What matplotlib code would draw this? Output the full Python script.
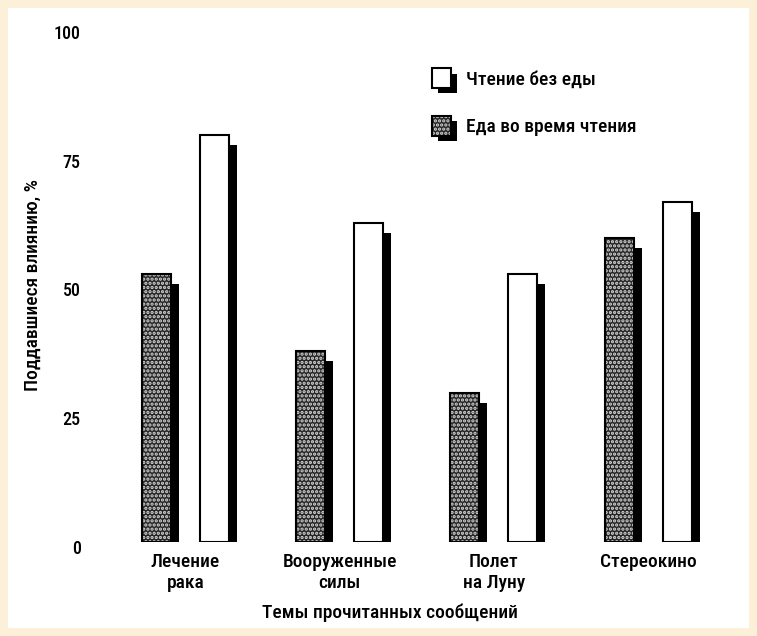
import matplotlib
matplotlib.use("Agg")
import matplotlib.pyplot as plt
import matplotlib.transforms as mtransforms
from matplotlib.patches import Rectangle
from matplotlib.legend_handler import HandlerBase
import numpy as np

# ---- data ----
categories = ["Лечение\nрака", "Вооруженные\nсилы", "Полет\nна Луну", "Стереокино"]
eating = [52, 37, 29, 59]          # Еда во время чтения
no_eating = [79, 62, 52, 66]       # Чтение без еды
yticks = [0, 25, 50, 75, 100]
series_labels = ["Чтение без еды", "Еда во время чтения"]

plt.rcParams["font.family"] = ["Liberation Sans Narrow", "Roboto Condensed", "Roboto", "DejaVu Sans"]
plt.rcParams["font.weight"] = 500
plt.rcParams["axes.labelweight"] = 500
plt.rcParams["hatch.linewidth"] = 1.6

W, H = 757, 636
DPI = 100
FS = 14
fig = plt.figure(figsize=(W / DPI, H / DPI), dpi=DPI, facecolor="#fdf0d8")

# white page inside the cream border
fig.patches.append(Rectangle((8 / W, 8 / H), (749 - 8) / W, (628 - 8) / H,
                             transform=fig.transFigure, facecolor="white",
                             edgecolor="none", zorder=-5))

ax = fig.add_axes([108.4 / W, (H - 542) / H, 616.8 / W, 515 / H])
ax.set_facecolor("none")
ax.set_zorder(2)
ax.set_xlim(-0.5, 3.5)
ax.set_ylim(0, 100)
for s in ax.spines.values():
    s.set_visible(False)

x = np.arange(len(categories))
bw = 0.188
off = 0.188
HATCH_COLOR = matplotlib.colors.to_rgba("#d8d8d8")
DARK = "#262626"

shadow_shift = mtransforms.ScaledTranslation(8 / DPI, -10 / DPI, fig.dpi_scale_trans)

def draw_series(xpos, vals, face, hatch):
    # black drop shadow behind each bar
    sh = ax.bar(xpos, vals, width=bw, color="black", linewidth=0, zorder=2)
    for r in sh:
        r.set_transform(ax.transData + shadow_shift)
        r.set_clip_on(True)
    bars = ax.bar(xpos, vals, width=bw, facecolor=face, edgecolor="black",
                  linewidth=1.5, zorder=3)
    if hatch:
        for r in bars:
            r.set_hatch(hatch)
            r._hatch_color = HATCH_COLOR
    return bars

draw_series(x - off, eating, DARK, "....")
draw_series(x + off, no_eating, "white", None)

ax.set_yticks(yticks)
ax.set_yticklabels([str(t) for t in yticks])
ax.tick_params(axis="y", length=0, pad=20, labelsize=13)
label_drop = mtransforms.ScaledTranslation(0, -5 / DPI, fig.dpi_scale_trans)
for lab in ax.get_yticklabels():
    lab.set_transform(lab.get_transform() + label_drop)

ax.set_xticks(x)
ax.set_xticklabels(categories, linespacing=1.2)
ax.tick_params(axis="x", length=0, pad=8, labelsize=FS)

ax.set_ylabel("Поддавшиеся влиянию, %", fontsize=FS)
ax.yaxis.set_label_coords((33 - 108.4) / 616.8, (542 - 285) / 515)
ax.yaxis.label.set_va("center")

ax.set_xlabel("Темы прочитанных сообщений", fontsize=FS)
ax.xaxis.set_label_coords((390 - 108.4) / 616.8, (542 - 613) / 515)
ax.xaxis.label.set_va("center")


class ShadowBox(HandlerBase):
    def __init__(self, face, hatch):
        super().__init__()
        self.face = face
        self.hatch = hatch

    def create_artists(self, legend, orig_handle, xdescent, ydescent,
                       width, height, fontsize, trans):
        d = 4
        shadow = Rectangle((-xdescent + d, -ydescent - d), width, height,
                           facecolor="black", edgecolor="none", transform=trans)
        box = Rectangle((-xdescent, -ydescent), width, height,
                        facecolor=self.face, edgecolor="black", linewidth=1.5,
                        transform=trans)
        if self.hatch:
            box.set_hatch(self.hatch)
            box._hatch_color = HATCH_COLOR
        return [shadow, box]


h1 = Rectangle((0, 0), 1, 1)
h2 = Rectangle((0, 0), 1, 1)
fig.legend([h1, h2], series_labels,
           handler_map={h1: ShadowBox("white", None), h2: ShadowBox(DARK, "....")},
           loc="upper left", bbox_to_anchor=(432 / W, (H - 68) / H),
           frameon=False, fontsize=FS, handlelength=1.0, handleheight=1.2,
           handletextpad=0.75, labelspacing=1.4, borderpad=0, borderaxespad=0)

fig.savefig("out.png", dpi=DPI, facecolor=fig.get_facecolor())
